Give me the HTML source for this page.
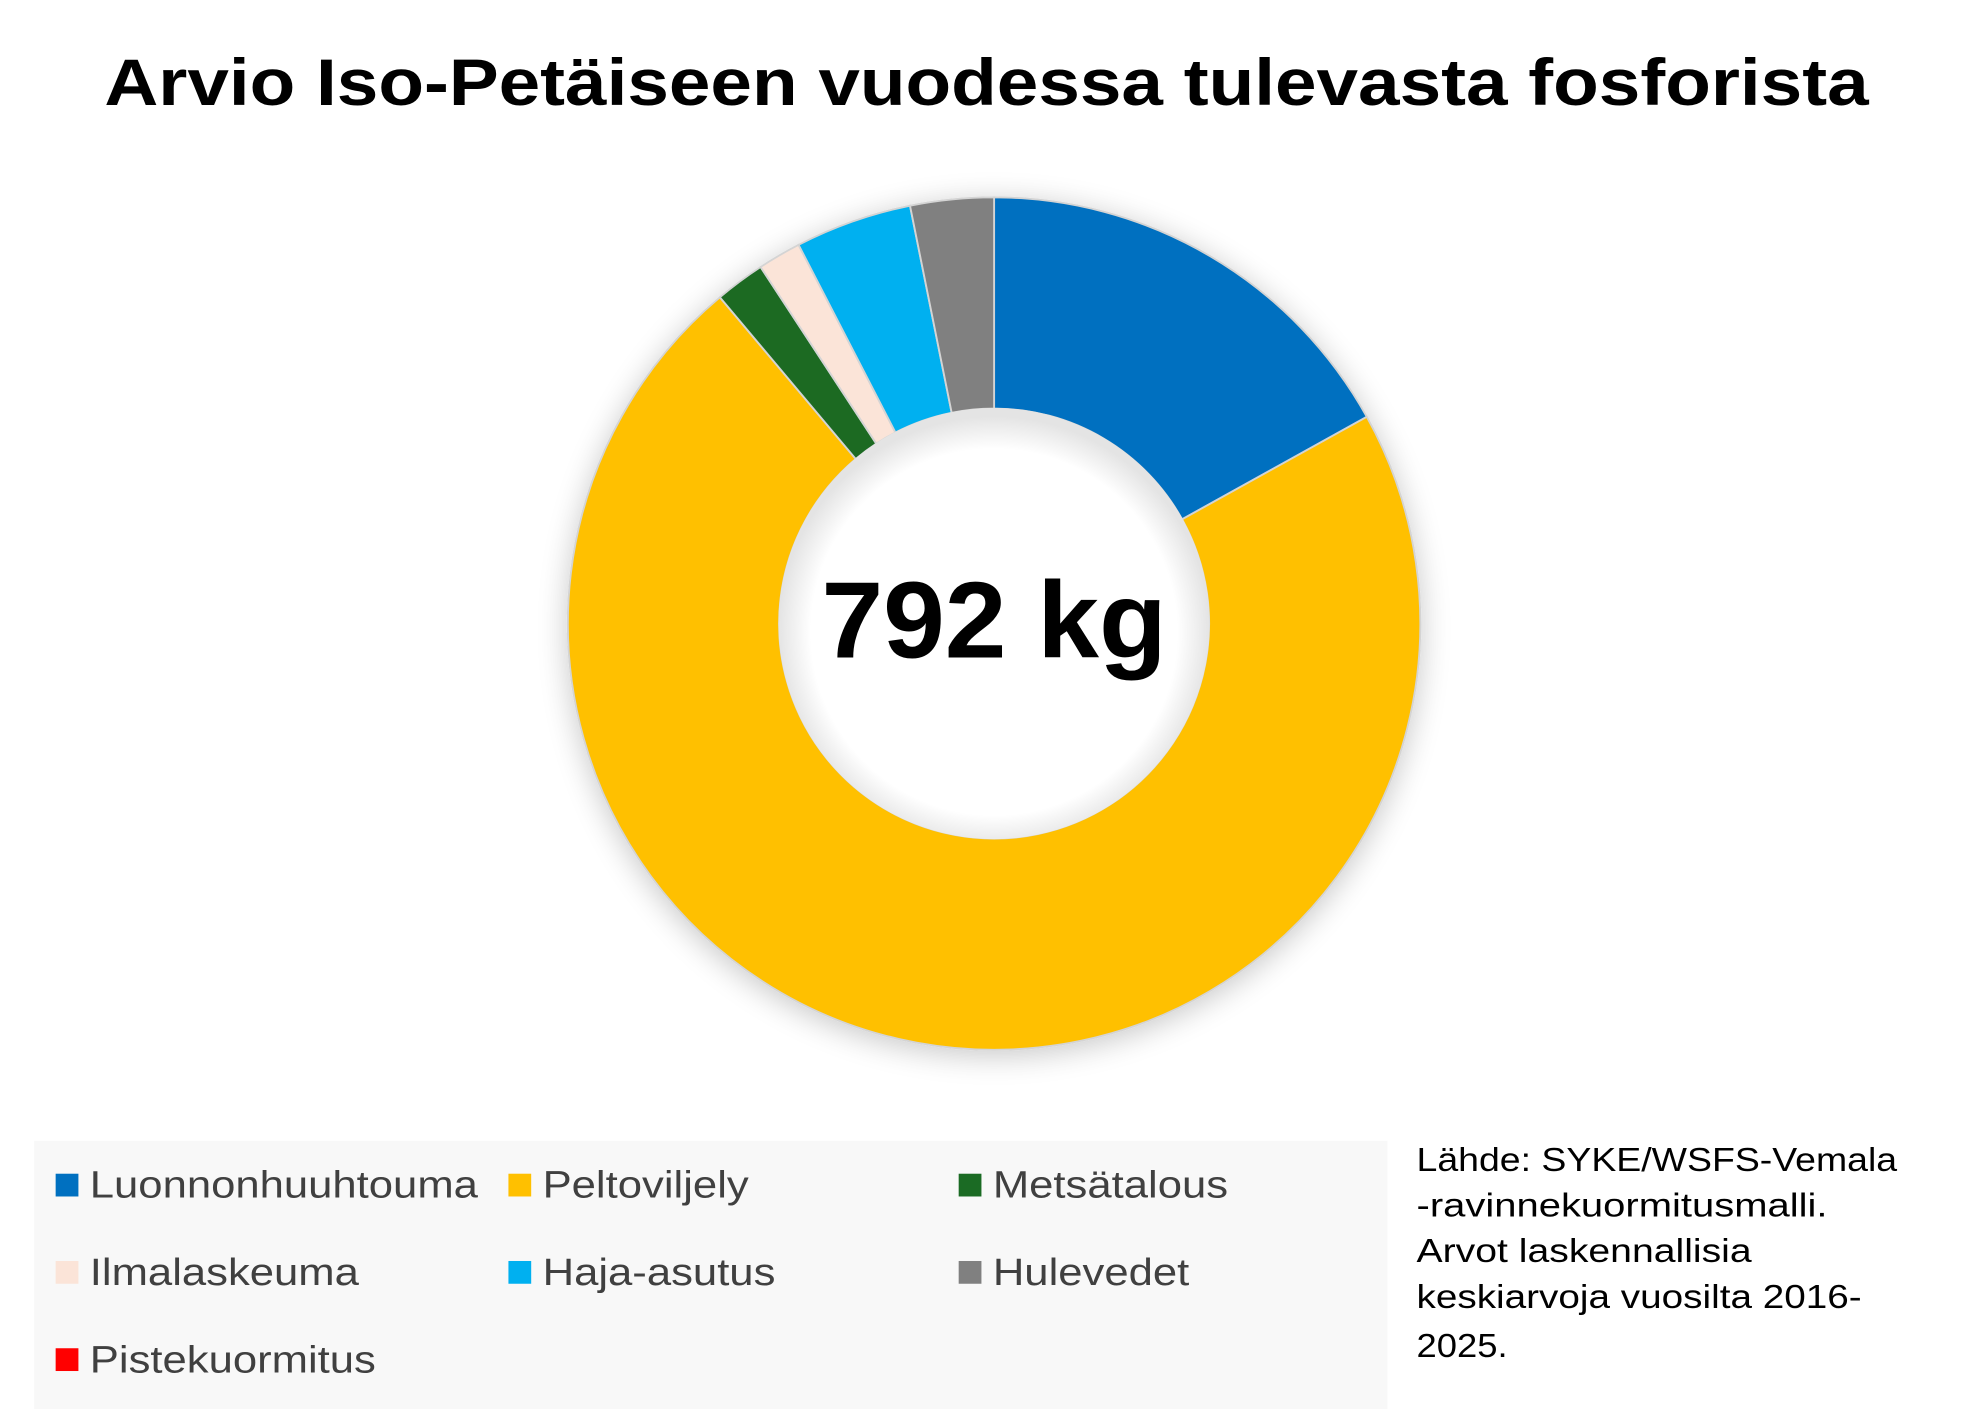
<!DOCTYPE html>
<html><head><meta charset="utf-8"><style>
html,body{margin:0;padding:0;background:#fff;}
svg{display:block;}
</style></head><body>
<svg id="chart" width="1973" height="1409" viewBox="3 3 1560 1114" xmlns="http://www.w3.org/2000/svg" font-family="'Liberation Sans', sans-serif">
<defs>
<filter id="sh" x="-20%" y="-20%" width="140%" height="140%"><feGaussianBlur in="SourceAlpha" stdDeviation="12"/><feOffset dx="0" dy="4"/><feComponentTransfer><feFuncA type="linear" slope="0.22"/></feComponentTransfer><feMerge><feMergeNode/><feMergeNode in="SourceGraphic"/></feMerge></filter>
<radialGradient id="holeg" cx="0.5" cy="0.52" r="0.5">
<stop offset="0.85" stop-color="#ffffff"/>
<stop offset="1" stop-color="#e4e4e4"/>
</radialGradient>
</defs>
<rect x="0" y="0" width="1570" height="1120" fill="#fff"/>
<text x="783" y="86" text-anchor="middle" font-size="52" font-weight="bold" fill="#000" textLength="1395" lengthAdjust="spacingAndGlyphs">Arvio Iso-Petäiseen vuodessa tulevasta fosforista</text>
<g id="slices" filter="url(#sh)"></g>
<circle cx="789" cy="496" r="170.5" fill="url(#holeg)"/>
<text x="789" y="523" text-anchor="middle" font-size="86" font-weight="bold" fill="#000" textLength="273" lengthAdjust="spacingAndGlyphs">792 kg</text>
<rect x="30" y="905" width="1070" height="212" fill="#f8f8f8"/>
<g id="legend"></g>
<g font-size="26" fill="#000">
<text x="1123" y="929" textLength="380" lengthAdjust="spacingAndGlyphs">Lähde: SYKE/WSFS-Vemala</text>
<text x="1123" y="965" textLength="325" lengthAdjust="spacingAndGlyphs">-ravinnekuormitusmalli.</text>
<text x="1123" y="1001" textLength="265" lengthAdjust="spacingAndGlyphs">Arvot laskennallisia</text>
<text x="1123" y="1037" textLength="352" lengthAdjust="spacingAndGlyphs">keskiarvoja vuosilta 2016-</text>
<text x="1123" y="1076" textLength="72" lengthAdjust="spacingAndGlyphs">2025.</text>
</g>
</svg>
<script>
const categories = ["Luonnonhuuhtouma","Pistekuormitus","Peltoviljely","Metsätalous","Ilmalaskeuma","Haja-asutus","Hulevedet"];
const values = [134, 0, 569, 15, 13, 35, 25];
const colors = ["#0070c0","#ff0000","#ffc000","#1b6b24","#fbe4d8","#00b0f0","#808080"];
const legendOrder = ["Luonnonhuuhtouma","Peltoviljely","Metsätalous","Ilmalaskeuma","Haja-asutus","Hulevedet","Pistekuormitus"];
const NS="http://www.w3.org/2000/svg";
const cx=789, cy=496, R=337, r=170;
const total=values.reduce((a,b)=>a+b,0);
function pt(a,rad){return [cx+rad*Math.sin(a), cy-rad*Math.cos(a)];}
const g=document.getElementById('slices');
let acc=0;
values.forEach((v,i)=>{
  const a0=acc/total*2*Math.PI; acc+=v; const a1=acc/total*2*Math.PI;
  if(v<=0) return;
  const large=(a1-a0)>Math.PI?1:0;
  const p0=pt(a0,R),p1=pt(a1,R),q1=pt(a1,r),q0=pt(a0,r);
  const p=document.createElementNS(NS,'path');
  p.setAttribute('d',`M${p0} A${R},${R} 0 ${large} 1 ${p1} L${q1} A${r},${r} 0 ${large} 0 ${q0} Z`);
  p.setAttribute('fill',colors[i]);
  p.setAttribute('stroke','#d4d4d4');
  p.setAttribute('stroke-width','1.5');
  
  
  g.appendChild(p);
});
const lg=document.getElementById('legend');
const colX=[47,405,761], rowY=[940,1009,1078];
legendOrder.forEach((name,k)=>{
  const i=categories.indexOf(name);
  const x=colX[k%3], y=rowY[Math.floor(k/3)];
  const it=document.createElementNS(NS,'g');
  
  
  const s=document.createElementNS(NS,'rect');
  s.setAttribute('x',x);s.setAttribute('y',y-9);s.setAttribute('width',18);s.setAttribute('height',18);
  s.setAttribute('fill',colors[i]);
  
  
  const t=document.createElementNS(NS,'text');
  t.setAttribute('x',x+27);t.setAttribute('y',y+10);
  t.setAttribute('font-size','30');t.setAttribute('fill','#404040');
  
  
  t.textContent=name;
  it.appendChild(s);it.appendChild(t);lg.appendChild(it);
  const w=t.getComputedTextLength();
  t.setAttribute('textLength', (w*1.15).toFixed(1));
  t.setAttribute('lengthAdjust','spacingAndGlyphs');
});
</script>
</body></html>
